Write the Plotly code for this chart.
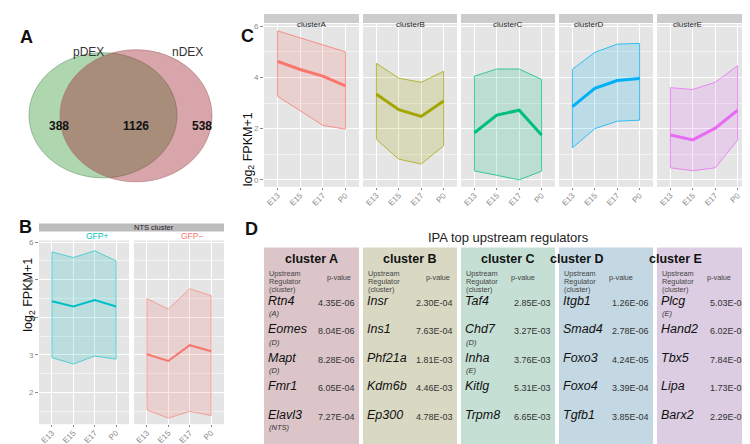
import plotly.graph_objects as go

W, H = 750, 444
FONT = "Liberation Sans, Arial, Helvetica, sans-serif"

# ---------------- data ----------------
venn_sets = ["pDEX", "nDEX"]
venn_counts = [388, 1126, 538]   # pDEX only, shared, nDEX only

stages = ["E13", "E15", "E17", "P0"]

clusters = ["clusterA", "clusterB", "clusterC", "clusterD", "clusterE"]
cluster_colors = ["#F8766D", "#A3A500", "#00BF7D", "#00B0F6", "#E76BF3"]

mean_A = [4.63, 4.31, 4.05, 3.67]
upper_A = [5.82, 5.54, 5.27, 5.00]
lower_A = [3.26, 2.70, 2.13, 1.98]

mean_B = [3.34, 2.74, 2.48, 3.08]
upper_B = [4.55, 3.97, 3.81, 4.24]
lower_B = [1.58, 0.81, 0.62, 1.33]

mean_C = [1.84, 2.53, 2.72, 1.75]
upper_C = [4.05, 4.33, 4.33, 3.92]
lower_C = [0.35, 0.18, 0.00, 0.34]

mean_D = [2.86, 3.57, 3.88, 3.96]
upper_D = [4.32, 4.98, 5.30, 5.33]
lower_D = [1.25, 2.00, 2.29, 2.33]

mean_E = [1.75, 1.56, 2.02, 2.72]
upper_E = [3.60, 3.53, 3.81, 4.46]
lower_E = [0.47, 0.36, 0.47, 1.55]

c_means = [mean_A, mean_B, mean_C, mean_D, mean_E]
c_uppers = [upper_A, upper_B, upper_C, upper_D, upper_E]
c_lowers = [lower_A, lower_B, lower_C, lower_D, lower_E]

nts_groups = ["GFP+", "GFP\u2212"]
nts_colors = ["#00BFC4", "#F8766D"]
mean_gfp_pos = [4.43, 4.29, 4.46, 4.29]
upper_gfp_pos = [5.74, 5.59, 5.77, 5.50]
lower_gfp_pos = [2.93, 2.76, 2.97, 2.89]
mean_gfp_neg = [3.02, 2.84, 3.26, 3.10]
upper_gfp_neg = [4.50, 4.22, 4.76, 4.58]
lower_gfp_neg = [1.54, 1.32, 1.50, 1.39]
b_means = [mean_gfp_pos, mean_gfp_neg]
b_uppers = [upper_gfp_pos, upper_gfp_neg]
b_lowers = [lower_gfp_pos, lower_gfp_neg]

table_title = "IPA top upstream regulators"
table_headers = ["cluster A", "cluster B", "cluster C", "cluster D", "cluster E"]
genes_A = ["Rtn4", "Eomes", "Mapt", "Fmr1", "Elavl3"]
genes_B = ["Insr", "Ins1", "Phf21a", "Kdm6b", "Ep300"]
genes_C = ["Taf4", "Chd7", "Inha", "Kitlg", "Trpm8"]
genes_D = ["Itgb1", "Smad4", "Foxo3", "Foxo4", "Tgfb1"]
genes_E = ["Plcg", "Hand2", "Tbx5", "Lipa", "Barx2"]
sub_A = ["(A)", "(D)", "(D)", "", "(NTS)"]
sub_B = ["", "", "", "", ""]
sub_C = ["", "(D)", "(E)", "", ""]
sub_D = ["", "", "", "", ""]
sub_E = ["(E)", "", "", "", ""]
pval_A = ["4.35E-06", "8.04E-06", "8.28E-06", "6.05E-04", "7.27E-04"]
pval_B = ["2.30E-04", "7.63E-04", "1.81E-03", "4.46E-03", "4.78E-03"]
pval_C = ["2.85E-03", "3.27E-03", "3.76E-03", "5.31E-03", "6.65E-03"]
pval_D = ["1.26E-06", "2.78E-06", "4.24E-05", "3.39E-04", "3.85E-04"]
pval_E = ["5.03E-04", "6.02E-04", "7.84E-04", "1.73E-03", "2.29E-03"]
table_genes = [genes_A, genes_B, genes_C, genes_D, genes_E]
table_subs = [sub_A, sub_B, sub_C, sub_D, sub_E]
table_pvals = [pval_A, pval_B, pval_C, pval_D, pval_E]
table_fills = ["#dbc5c9", "#d9d9c3", "#c6dfd5", "#c4d8e3", "#ddcde2"]


# ---------------- helpers ----------------
def X(px):
    return px / W


def Y(py):
    return 1 - py / H


def rgba(hexc, a):
    hexc = hexc.lstrip("#")
    r, g, b = int(hexc[0:2], 16), int(hexc[2:4], 16), int(hexc[4:6], 16)
    return f"rgba({r},{g},{b},{a})"


fig = go.Figure()
shapes = []
annots = []
layout_axes = {}

TICKC = "#8a8a8a"


def x_axis(l, r, ys):
    return dict(
        domain=[X(l), X(r)], anchor=ys, type="category",
        categoryorder="array", categoryarray=stages, range=[-0.6, 3.6],
        showgrid=True, gridcolor="white", gridwidth=1,
        ticks="outside", ticklen=2, tickcolor=TICKC, tickangle=-45,
        ticklabelstandoff=-2,
        tickfont=dict(size=8, color=TICKC, family=FONT),
        zeroline=False, showline=False, fixedrange=True)


# ---------------- panel C ----------------
c_cols = [(256, 351), (355, 449), (453, 547), (551, 645), (649, 743)]
c_top, c_bot = 13, 177
for i, (l, r) in enumerate(c_cols):
    n = i + 1
    xs = "x" if n == 1 else f"x{n}"
    ys = "y" if n == 1 else f"y{n}"
    col = cluster_colors[i]
    up, lo, mu = c_uppers[i], c_lowers[i], c_means[i]
    fig.add_trace(go.Scatter(
        x=stages + stages[::-1] + [stages[0]],
        y=up + lo[::-1] + [up[0]],
        mode="lines", fill="toself", fillcolor=rgba(col, 0.18),
        line=dict(color=rgba(col, 0.75), width=1),
        xaxis=xs, yaxis=ys, hoverinfo="skip"))
    fig.add_trace(go.Scatter(
        x=stages, y=mu, mode="lines",
        line=dict(color=col, width=3), xaxis=xs, yaxis=ys))
    layout_axes["xaxis" if n == 1 else f"xaxis{n}"] = x_axis(l, r, ys)
    layout_axes["yaxis" if n == 1 else f"yaxis{n}"] = dict(
        domain=[Y(c_bot), Y(c_top)], anchor=xs, range=[-0.27, 6.09],
        tickmode="array", tickvals=[0, 2, 4, 6],
        showticklabels=(i == 0), ticks="outside" if i == 0 else "",
        ticklen=3, tickcolor=TICKC,
        tickfont=dict(size=8, color=TICKC, family=FONT),
        showgrid=True, gridcolor="white", gridwidth=1,
        minor=dict(tickvals=[1, 3, 5], showgrid=True, gridcolor="#f3f3f3", gridwidth=0.6),
        zeroline=False, showline=False, fixedrange=True)
    shapes.append(dict(type="rect", xref="paper", yref="paper",
                       x0=X(l), x1=X(r), y0=Y(12), y1=Y(3),
                       fillcolor="#cccccc", line=dict(width=0), layer="below"))
    annots.append(dict(x=X((l + r) / 2), y=Y(7.5), xref="paper", yref="paper",
                       text=clusters[i], showarrow=False,
                       font=dict(size=8, color="#1a1a1a", family=FONT)))

annots.append(dict(x=X(231), y=Y(100), xref="paper", yref="paper",
                   text="log<sub>2</sub> FPKM+1", textangle=-90, showarrow=False,
                   font=dict(size=12.5, color="#111", family=FONT)))

# ---------------- panel B ----------------
b_cols = [(31, 121), (126, 216)]
b_top, b_bot = 231, 416
for j, (l, r) in enumerate(b_cols):
    n = 6 + j
    xs, ys = f"x{n}", f"y{n}"
    col = nts_colors[j]
    up, lo, mu = b_uppers[j], b_lowers[j], b_means[j]
    fig.add_trace(go.Scatter(
        x=stages + stages[::-1] + [stages[0]],
        y=up + lo[::-1] + [up[0]],
        mode="lines", fill="toself", fillcolor=rgba(col, 0.18),
        line=dict(color=rgba(col, 0.6), width=1),
        xaxis=xs, yaxis=ys, hoverinfo="skip"))
    fig.add_trace(go.Scatter(
        x=stages, y=mu, mode="lines",
        line=dict(color=col, width=2), xaxis=xs, yaxis=ys))
    layout_axes[f"xaxis{n}"] = x_axis(l, r, ys)
    layout_axes[f"yaxis{n}"] = dict(
        domain=[Y(b_bot), Y(b_top)], anchor=xs, range=[1.16, 6.045],
        tickmode="array", tickvals=[2, 3, 4, 5, 6],
        showticklabels=(j == 0), ticks="outside" if j == 0 else "",
        ticklen=3, tickcolor=TICKC,
        tickfont=dict(size=8, color=TICKC, family=FONT),
        showgrid=True, gridcolor="white", gridwidth=1,
        minor=dict(tickvals=[1.5, 2.5, 3.5, 4.5, 5.5], showgrid=True,
                   gridcolor="#f3f3f3", gridwidth=0.6),
        zeroline=False, showline=False, fixedrange=True)
    annots.append(dict(x=X((l + r) / 2), y=Y(226.5), xref="paper", yref="paper",
                       text=nts_groups[j], showarrow=False,
                       font=dict(size=8.5, color=col, family=FONT)))

shapes.append(dict(type="rect", xref="paper", yref="paper",
                   x0=X(31), x1=X(216), y0=Y(222), y1=Y(214),
                   fillcolor="#bdbdbd", line=dict(width=0), layer="below"))
annots.append(dict(x=X(123.5), y=Y(218), xref="paper", yref="paper",
                   text="NTS cluster", showarrow=False,
                   font=dict(size=7.5, color="#1a1a1a", family=FONT)))
annots.append(dict(x=X(11), y=Y(325), xref="paper", yref="paper",
                   text="log<sub>2</sub> FPKM+1", textangle=-90, showarrow=False,
                   font=dict(size=12.5, color="#111", family=FONT)))

# ---------------- panel A (Venn) ----------------
shapes.append(dict(type="circle", xref="paper", yref="paper",
                   x0=X(21), x1=X(169), y0=Y(168), y1=Y(42),
                   fillcolor="rgba(95,175,95,0.5)",
                   line=dict(color="rgba(110,150,110,0.6)", width=1)))
shapes.append(dict(type="circle", xref="paper", yref="paper",
                   x0=X(52), x1=X(204), y0=Y(172), y1=Y(39),
                   fillcolor="rgba(155,30,42,0.4)",
                   line=dict(color="rgba(170,110,115,0.6)", width=1)))
for name, xp in zip(venn_sets, [63, 162]):
    annots.append(dict(x=X(xp), y=Y(32), xref="paper", yref="paper", text=name,
                       showarrow=False, font=dict(size=12, color="#333", family=FONT)))
for cnt, xp in zip(venn_counts, [39, 113, 182]):
    annots.append(dict(x=X(xp), y=Y(107), xref="paper", yref="paper",
                       text=f"<b>{cnt}</b>", showarrow=False,
                       font=dict(size=12, color="#111", family=FONT)))

# ---------------- panel D (table) ----------------
annots.append(dict(x=X(500), y=Y(228), xref="paper", yref="paper",
                   text=table_title, showarrow=False,
                   font=dict(size=13, color="#222", family=FONT)))
row_y = [300, 328.7, 357.4, 386.1, 414.8]
for k, (l, r) in enumerate(c_cols):
    shapes.append(dict(type="rect", xref="paper", yref="paper",
                       x0=X(l), x1=X(r), y0=Y(437), y1=Y(238),
                       fillcolor=table_fills[k], line=dict(width=0), layer="below"))
    annots.append(dict(x=X((l + r) / 2), y=Y(250), xref="paper", yref="paper",
                       text=f"<b>{table_headers[k]}</b>", showarrow=False,
                       font=dict(size=12.5, color="#111", family=FONT)))
    for t, yy in zip(["Upstream", "Regulator", "(cluster)"], [264, 272, 280]):
        annots.append(dict(x=X(l + 4), y=Y(yy), xref="paper", yref="paper",
                           xanchor="left", text=t, showarrow=False, borderpad=0,
                           font=dict(size=7.3, color="#444", family=FONT)))
    annots.append(dict(x=X(l + 75), y=Y(268), xref="paper", yref="paper",
                       text="p-value", showarrow=False, borderpad=0,
                       font=dict(size=7.3, color="#444", family=FONT)))
    for g, s, p, yy in zip(table_genes[k], table_subs[k], table_pvals[k], row_y):
        annots.append(dict(x=X(l + 3), y=Y(yy), xref="paper", yref="paper",
                           xanchor="left", text=f"<i>{g}</i>", showarrow=False,
                           borderpad=0,
                           font=dict(size=12.5, color="#111", family=FONT)))
        if s:
            annots.append(dict(x=X(l + 4), y=Y(yy + 10.5), xref="paper", yref="paper",
                               xanchor="left", text=f"<i>{s}</i>", showarrow=False,
                               borderpad=0,
                               font=dict(size=7.5, color="#333", family=FONT)))
        annots.append(dict(x=X(r - 3), y=Y(yy), xref="paper", yref="paper",
                           xanchor="right", text=p, showarrow=False, borderpad=0,
                           font=dict(size=9, color="#333", family=FONT)))

# ---------------- panel letters ----------------
for letter, (lx, ly) in zip(["A", "B", "C", "D"], [(11, 15), (10, 217), (232, 14), (236, 219)]):
    annots.append(dict(x=X(lx), y=Y(ly), xref="paper", yref="paper",
                       text=f"<b>{letter}</b>", showarrow=False, borderpad=0,
                       font=dict(size=18, color="#111", family=FONT)))

fig.update_layout(
    width=W, height=H, margin=dict(l=0, r=0, t=0, b=0),
    paper_bgcolor="white", plot_bgcolor="#e5e5e5",
    showlegend=False, shapes=shapes, annotations=annots,
    font=dict(family=FONT), **layout_axes)

fig.write_html("out.html")
